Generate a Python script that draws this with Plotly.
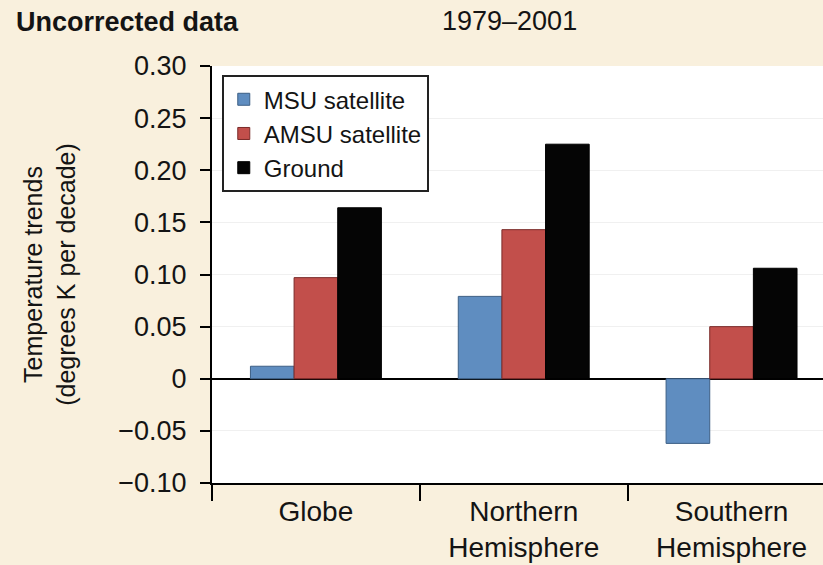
import plotly.graph_objects as go

# Temperature trends 1979-2001 (degrees K per decade), uncorrected data
regions = ["Globe", "Northern<br>Hemisphere", "Southern<br>Hemisphere"]
msu_satellite = [0.012, 0.079, -0.062]
amsu_satellite = [0.097, 0.143, 0.050]
ground = [0.164, 0.225, 0.106]

y_tick_values = [0.30, 0.25, 0.20, 0.15, 0.10, 0.05, 0.0, -0.05, -0.10]
y_tick_labels = ["0.30", "0.25", "0.20", "0.15", "0.10", "0.05", "0", "\u22120.05", "\u22120.10"]

FONT = "Liberation Sans, Arial, Helvetica, sans-serif"
INK = "#141414"
BG = "#f9f0dd"

fig = go.Figure()
series = [
    ("MSU satellite", msu_satellite, "#5f8dc0", "#3d5f85"),
    ("AMSU satellite", amsu_satellite, "#c24f4b", "#7a2a28"),
    ("Ground", ground, "#050505", "#000000"),
]
for name, values, color, edge in series:
    fig.add_trace(go.Bar(
        x=regions, y=values, name=name,
        marker=dict(color=color, line=dict(color=edge, width=1)),
    ))

fig.update_layout(
    width=823, height=565,
    margin=dict(l=212, r=0, t=66, b=82),
    paper_bgcolor=BG, plot_bgcolor="white",
    barmode="group", bargap=0.37, bargroupgap=0,
    font=dict(family=FONT, color=INK, size=27),
    title=dict(
        text="<b>Uncorrected data</b>",
        x=16 / 823, xanchor="left", xref="container",
        y=1 - 22 / 565, yanchor="middle", yref="container",
        font=dict(size=27, color=INK),
    ),
    showlegend=True,
    legend=dict(
        x=0.016, y=0.978, xanchor="left", yanchor="top",
        bgcolor="white", bordercolor="#222222", borderwidth=2,
        font=dict(size=24, color=INK),
        traceorder="normal", itemwidth=30,
        tracegroupgap=0,
    ),
    annotations=[dict(
        text="1979\u20132001", xref="paper", yref="paper",
        x=(509.5 - 212) / 611, y=(483 - 21) / 417,
        xanchor="center", yanchor="middle", showarrow=False,
        font=dict(size=27, color=INK),
    )],
)

fig.update_xaxes(
    type="category", range=[-0.5, 2.44],
    showline=True, linecolor="black", linewidth=2,
    ticks="outside", tickson="boundaries", ticklen=16, tickwidth=2, tickcolor="black",
    ticklabelstandoff=2,
    showgrid=False, tickfont=dict(size=28, color=INK),
    fixedrange=True,
)
fig.update_yaxes(
    range=[-0.10, 0.30],
    tickmode="array", tickvals=y_tick_values, ticktext=y_tick_labels,
    showline=True, linecolor="black", linewidth=2,
    ticks="outside", ticklen=10, tickwidth=2, tickcolor="black",
    ticklabelstandoff=8,
    showgrid=True, gridcolor="#f0f0f0", gridwidth=1,
    zeroline=True, zerolinecolor="black", zerolinewidth=2,
    tickfont=dict(size=27, color=INK),
    title=dict(
        text="Temperature trends<br>(degrees K per decade)",
        font=dict(size=25, color=INK), standoff=36,
    ),
    fixedrange=True,
)

fig.write_html("out.html")
